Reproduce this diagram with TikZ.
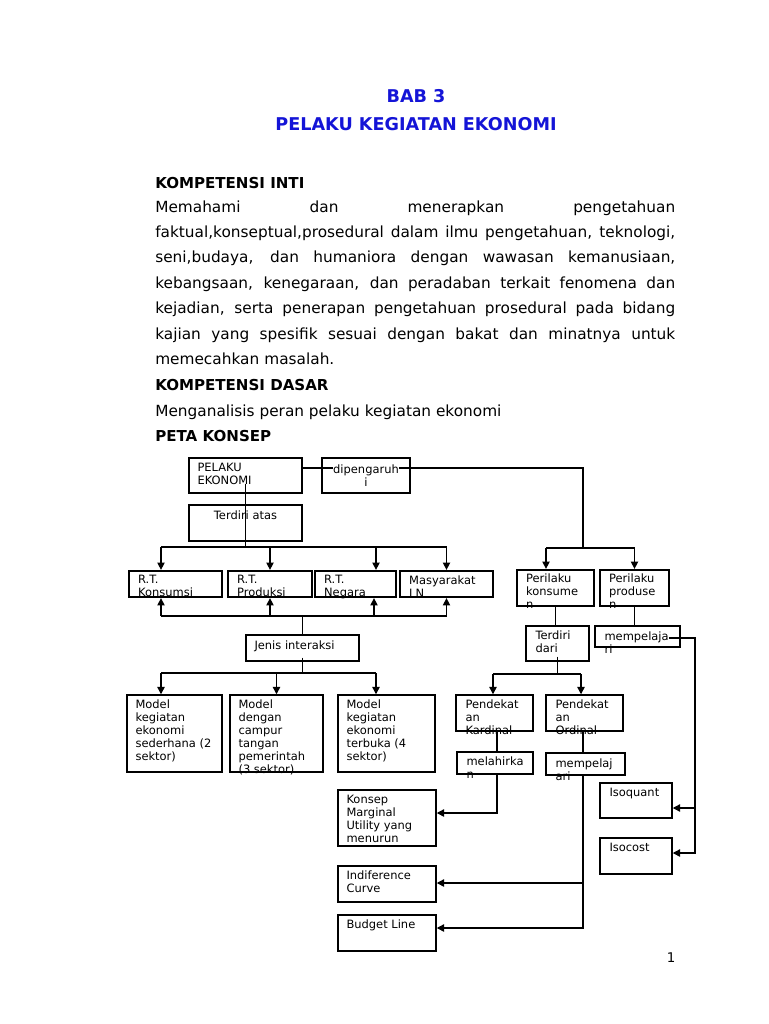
\documentclass[tikz,border=0pt]{standalone}
\usepackage{fontspec}
\setmainfont{DejaVu Sans}
\usetikzlibrary{arrows.meta, positioning, fit}

\definecolor{birujudul}{RGB}{20,20,215}
\newcommand{\kecil}{\fontsize{8.6}{9.75}\selectfont}
\newcommand{\badan}{\fontsize{11.5}{19.05}\selectfont}
\newcommand{\baris}[1]{\leavevmode\hbox to 390pt{\spaceskip=0.318em plus 1fil minus 0.12em\relax #1}}

\begin{document}
\begin{tikzpicture}[
        x=0.75pt, y=-0.75pt,
        kotak/.style={draw, line width=1.1pt, inner sep=0pt},
        tebal/.style={kotak, line width=1.7pt},
        isi/.style={font=\kecil, align=left, inner sep=0pt, anchor=north west},
        tengah/.style={font=\kecil, align=center, inner sep=0pt, anchor=north},
        judul/.style={font=\fontsize{13.2}{15}\selectfont\bfseries, text=birujudul, inner sep=0pt, anchor=base},
        subjudul/.style={font=\fontsize{11.3}{13}\selectfont\bfseries, inner sep=0pt, anchor=base west},
        garis/.style={draw, line width=1pt},
        panah/.style={garis, -{Triangle[length=5.5pt, width=5.5pt]}}
    ]
        \path[use as bounding box, fill=white] (0,0) rectangle (768,1024);

        % judul dan teks
        \node[judul] (bab) at (416,103) {BAB 3};
        \node[judul] (judul) at (416,130) {PELAKU KEGIATAN EKONOMI};
        \node[subjudul] (ki) at (155,188) {KOMPETENSI INTI};
        \node[font=\badan, text width=390pt, align=left, inner sep=0pt, anchor=base west] (kiisi) at (155,212) {%
            \baris{Memahami dan menerapkan pengetahuan}\\
            \baris{faktual,konseptual,prosedural dalam ilmu pengetahuan, teknologi,}\\
            \baris{seni,budaya, dan humaniora dengan wawasan kemanusiaan,}\\
            \baris{kebangsaan, kenegaraan, dan peradaban terkait fenomena dan}\\
            \baris{kejadian, serta penerapan pengetahuan prosedural pada bidang}\\
            \baris{kajian yang spesifik sesuai dengan bakat dan minatnya untuk}\\
            memecahkan masalah.};
        \node[subjudul] (kd) at (155,390) {KOMPETENSI DASAR};
        \node[font=\badan, inner sep=0pt, anchor=base west] (kdisi) at (155,416) {Menganalisis peran pelaku kegiatan ekonomi};
        \node[subjudul] (peta) at (155,441) {PETA KONSEP};

        % kotak
        \node[kotak, fit={(189,458) (302,493)}] (pelaku) {};
        \node[kotak, fit={(322,458) (410,493)}] (dipengaruhi) {};
        \node[kotak, fit={(189,505) (302,541)}] (terdiriatas) {};
        \node[tebal, fit={(129,571) (222,597)}] (rtk) {};
        \node[tebal, fit={(228,571) (312,597)}] (rtp) {};
        \node[tebal, fit={(315,571) (396,597)}] (rtn) {};
        \node[tebal, fit={(400,571) (493,597)}] (mln) {};
        \node[kotak, fit={(246,635) (359,661)}] (jenis) {};
        \node[kotak, fit={(127,695) (222,772)}] (model1) {};
        \node[kotak, fit={(230,695) (323,772)}] (model2) {};
        \node[kotak, fit={(338,695) (435,772)}] (model3) {};
        \node[tebal, fit={(517,570) (594,606)}] (konsumen) {};
        \node[tebal, fit={(600,570) (669,606)}] (produsen) {};
        \node[kotak, fit={(526,626) (589,661)}] (terdiridari) {};
        \node[kotak, fit={(595,626) (680,647)}] (pelajari1) {};
        \node[kotak, fit={(456,695) (533,731)}] (kardinal) {};
        \node[kotak, fit={(546,695) (623,731)}] (ordinal) {};
        \node[kotak, fit={(457,752) (533,774)}] (lahir) {};
        \node[kotak, fit={(546,753) (625,775)}] (pelajari2) {};
        \node[kotak, fit={(338,790) (436,846)}] (konsep) {};
        \node[kotak, fit={(338,866) (436,902)}] (indif) {};
        \node[kotak, fit={(338,915) (436,951)}] (budget) {};
        \node[kotak, fit={(600,783) (672,818)}] (isoquant) {};
        \node[kotak, fit={(600,838) (672,874)}] (isocost) {};

        % isi kotak
        \node[isi] (pelaku-t) at ([shift={(9,5.4)}]pelaku.north west) {PELAKU\\EKONOMI};
        \node[tengah] (dipengaruhi-t) at ([shift={(0,7.4)}]dipengaruhi.north) {dipengaruh\\i};
        \node[tengah] (terdiriatas-t) at ([shift={(0,6.4)}]terdiriatas.north) {Terdiri atas};
        \node[isi] (rtk-t) at ([shift={(10,5.4)}]rtk.north west) {R.T.\\Konsumsi};
        \node[isi] (rtp-t) at ([shift={(10,5.4)}]rtp.north west) {R.T.\\Produksi};
        \node[isi] (rtn-t) at ([shift={(10,5.4)}]rtn.north west) {R.T.\\Negara};
        \node[isi] (mln-t) at ([shift={(10,5.4)}]mln.north west) {Masyarakat\\LN};
        \node[isi] (jenis-t) at ([shift={(9,6.4)}]jenis.north west) {Jenis interaksi};
        \node[isi] (model1-t) at ([shift={(9,5.4)}]model1.north west) {Model\\kegiatan\\ekonomi\\sederhana (2\\sektor)};
        \node[isi] (model2-t) at ([shift={(9,5.4)}]model2.north west) {Model\\dengan\\campur\\tangan\\pemerintah\\(3 sektor)};
        \node[isi] (model3-t) at ([shift={(9,5.4)}]model3.north west) {Model\\kegiatan\\ekonomi\\terbuka (4\\sektor)};
        \node[isi] (konsumen-t) at ([shift={(10,5)}]konsumen.north west) {Perilaku\\konsume\\n};
        \node[isi] (produsen-t) at ([shift={(10,5)}]produsen.north west) {Perilaku\\produse\\n};
        \node[isi] (terdiridari-t) at ([shift={(10,5.4)}]terdiridari.north west) {Terdiri\\dari};
        \node[isi] (pelajari1-t) at ([shift={(10,6)}]pelajari1.north west) {mempelaja\\ri};
        \node[isi] (kardinal-t) at ([shift={(10,5.4)}]kardinal.north west) {Pendekat\\an\\Kardinal};
        \node[isi] (ordinal-t) at ([shift={(10,5.4)}]ordinal.north west) {Pendekat\\an\\Ordinal};
        \node[isi] (lahir-t) at ([shift={(10,5.4)}]lahir.north west) {melahirka\\n};
        \node[isi] (pelajari2-t) at ([shift={(10,6)}]pelajari2.north west) {mempelaj\\ari};
        \node[isi] (konsep-t) at ([shift={(9,5.4)}]konsep.north west) {Konsep\\Marginal\\Utility yang\\menurun};
        \node[isi] (indif-t) at ([shift={(9,5.4)}]indif.north west) {Indiference\\Curve};
        \node[isi] (budget-t) at ([shift={(9,5.4)}]budget.north west) {Budget Line};
        \node[isi] (isoquant-t) at ([shift={(10,5.4)}]isoquant.north west) {Isoquant};
        \node[isi] (isocost-t) at ([shift={(10,5.4)}]isocost.north west) {Isocost};

        \node[font=\fontsize{10}{12}\selectfont, inner sep=0pt, anchor=base] (hal) at (671,962) {1};

        % garis kiri
        \coordinate (bagi1) at (245.5,547);
        \coordinate (bus1) at (161,547);
        \coordinate (bus1n) at (376,547);
        \coordinate (bus1e) at (446.5,547);
        \draw[garis] ([shift={(0,-10)}]pelaku.south) -- (bagi1);
        \draw[garis] (bus1) -- (bus1e);
        \draw[panah] (bus1) -- (bus1 |- rtk.north);
        \draw[panah] (rtp.north |- bus1) -- (rtp.north);
        \draw[panah] (bus1n) -- (bus1n |- rtn.north);
        \draw[panah] (bus1e) -- (mln.north);

        \coordinate (bus2) at (161,616);
        \coordinate (bus2n) at (374,616);
        \coordinate (bus2e) at (446.5,616);
        \draw[garis] (bus2) -- (bus2e);
        \draw[panah] (bus2) -- (bus2 |- rtk.south);
        \draw[panah] (rtp.south |- bus2) -- (rtp.south);
        \draw[panah] (bus2n) -- (bus2n |- rtn.south);
        \draw[panah] (bus2e) -- (mln.south);
        \draw[garis] (jenis.north |- bus2) -- (jenis.north);

        \coordinate (bus3) at (161,673);
        \coordinate (bus3e) at (376,673);
        \draw[garis] ([shift={(0,-4)}]jenis.south) -- (jenis.south |- bus3);
        \draw[garis] (bus3) -- (bus3e);
        \draw[panah] (bus3) -- (bus3 |- model1.north);
        \draw[panah] (model2.north |- bus3) -- (model2.north);
        \draw[panah] (bus3e) -- (bus3e |- model3.north);

        % garis kanan
        \coordinate (belok) at (583,468);
        \coordinate (bus4) at (583,548);
        \coordinate (bus4w) at (546,548);
        \draw[garis] (pelaku.east |- belok) -- (dipengaruhi-t.west |- belok);
        \draw[garis] (dipengaruhi-t.east |- belok) -- (belok) -- (bus4);
        \draw[garis] (bus4w) -- (produsen.north |- bus4);
        \draw[panah] (bus4w) -- (bus4w |- konsumen.north);
        \draw[panah] (produsen.north |- bus4) -- (produsen.north);
        \draw[garis] (konsumen.south) -- (konsumen.south |- terdiridari.north);
        \draw[garis] (produsen.south) -- (produsen.south |- pelajari1.north);

        \coordinate (bus5) at (493,674);
        \coordinate (bus5e) at (581,674);
        \draw[garis] ([shift={(0,-5)}]terdiridari.south) -- (terdiridari.south |- bus5);
        \draw[garis] (bus5) -- (bus5e);
        \draw[panah] (bus5) -- (bus5 |- kardinal.north);
        \draw[panah] (bus5e) -- (bus5e |- ordinal.north);

        \coordinate (turun1) at (497,813);
        \draw[garis] (turun1 |- kardinal.south) -- (turun1 |- lahir.north);
        \draw[panah] (turun1 |- lahir.south) -- (turun1) -- (konsep.east |- turun1);

        \coordinate (turun2) at (583,928);
        \coordinate (cabang2) at (583,883);
        \draw[garis] (turun2 |- ordinal.south) -- (turun2 |- pelajari2.north);
        \draw[panah] (turun2 |- pelajari2.south) -- (turun2) -- (budget.east |- turun2);
        \draw[panah] (cabang2) -- (indif.east |- cabang2);

        \coordinate (kanan) at (695,638);
        \coordinate (kanan1) at (695,808);
        \coordinate (kanan2) at (695,853);
        \draw[panah] (pelajari1-t.east |- kanan) -- (kanan) -- (kanan2) -- (isocost.east |- kanan2);
        \draw[panah] (kanan1) -- (isoquant.east |- kanan1);
    \end{tikzpicture}
\end{document}
